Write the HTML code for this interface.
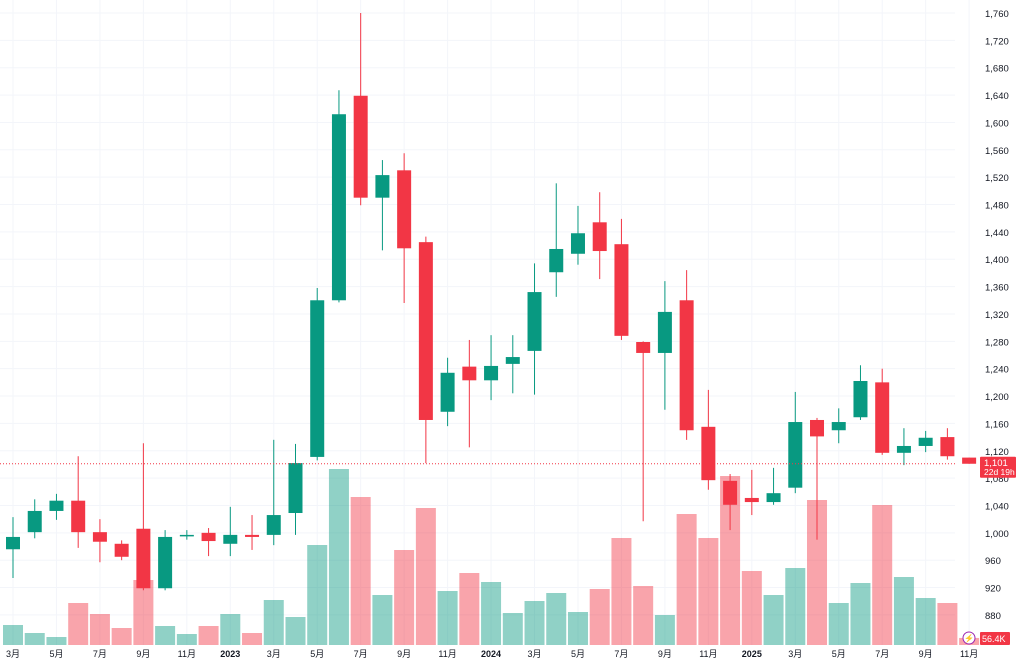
<!DOCTYPE html>
<html><head><meta charset="utf-8">
<style>
html,body{margin:0;padding:0;background:#fff;}
svg{display:block;font-family:"Liberation Sans","Noto Sans CJK SC",sans-serif;}
</style></head>
<body>
<svg id="c" width="1024" height="666"></svg>
<script>
const months=["2022-03","2022-04","2022-05","2022-06","2022-07","2022-08","2022-09","2022-10","2022-11","2022-12","2023-01","2023-02","2023-03","2023-04","2023-05","2023-06","2023-07","2023-08","2023-09","2023-10","2023-11","2023-12","2024-01","2024-02","2024-03","2024-04","2024-05","2024-06","2024-07","2024-08","2024-09","2024-10","2024-11","2024-12","2025-01","2025-02","2025-03","2025-04","2025-05","2025-06","2025-07","2025-08","2025-09","2025-10","2025-11"];
const opens=[976,1001,1032,1047,1001,984,1006,919,995,1000,984,997,997,1029,1111,1340,1639,1490,1530,1425,1177,1243,1223,1247,1266,1381,1408,1454,1422,1279,1263,1340,1155,1076,1051,1045,1066,1165,1150,1169,1220,1117,1127,1140,1110];
const highs=[1023,1049,1057,1112,1020,989,1131,1004,1004,1007,1038,1026,1136,1130,1358,1647,1760,1545,1555,1433,1256,1282,1289,1289,1394,1511,1478,1498,1459,1280,1368,1384,1209,1086,1092,1095,1206,1168,1182,1245,1240,1153,1149,1153,1110];
const lows=[934,992,1019,978,957,960,916,916,990,966,966,975,982,997,1106,1337,1479,1413,1336,1102,1156,1125,1194,1204,1202,1345,1392,1371,1282,1017,1180,1136,1063,1004,1026,1041,1058,990,1131,1165,1114,1099,1118,1107,1101];
const closes=[994,1032,1047,1001,987,965,919,994,997,988,997,994,1026,1102,1340,1612,1490,1523,1416,1165,1234,1223,1244,1257,1352,1415,1438,1412,1288,1263,1323,1150,1077,1041,1045,1058,1162,1141,1162,1222,1117,1127,1139,1112,1101];
const volumesK=[160,96,64,336,248,136,520,152,88,152,248,96,360,224,800,1408,1184,400,760,1096,432,576,504,256,352,416,264,448,856,472,240,1048,856,1352,592,400,616,1160,336,496,1120,544,376,336,56.4];
const priceTicks=[880,920,960,1000,1040,1080,1120,1160,1200,1240,1280,1320,1360,1400,1440,1480,1520,1560,1600,1640,1680,1720,1760];
const timeLabels=["3月","5月","7月","9月","11月","2023","3月","5月","7月","9月","11月","2024","3月","5月","7月","9月","11月","2025","3月","5月","7月","9月","11月"];
const lastPrice=1101;

const NS="http://www.w3.org/2000/svg";
const svg=document.getElementById('c');
function mk(t,a,p){const e=document.createElementNS(NS,t);for(const k in a)e.setAttribute(k,a[k]);(p||svg).appendChild(e);return e;}
const step=21.73, x0=13;
const xs=i=>x0+i*step;
const y=p=>13+(1760-p)*0.684;
const volBase=645, volScale=1/8;
const vy=v=>volBase-v*volScale;
const G="#089981",R="#f23645",GV="rgba(8,153,129,0.45)",RV="rgba(242,54,69,0.45)";

const grid=mk('g',{});


priceTicks.forEach(p=>{mk('line',{x1:0,x2:955,y1:y(p),y2:y(p),stroke:'#f3f5fa','stroke-width':1},grid);});
timeLabels.forEach((t,k)=>{const X=xs(k*2);mk('line',{x1:X,x2:X,y1:0,y2:645,stroke:'#f3f5fa','stroke-width':1},grid);});

const vg=mk('g',{});


volumesK.forEach((v,i)=>{
  const up=closes[i]>=opens[i];
  const r=mk('rect',{x:xs(i)-10,y:vy(v),width:20,height:v*volScale,fill:up?GV:RV},vg);
  
  
});

const cg=mk('g',{});


months.forEach((m,i)=>{
  const up=closes[i]>=opens[i];const col=up?G:R;
  const g=mk('g',{},cg);
  
  
  mk('line',{x1:xs(i),x2:xs(i),y1:y(highs[i]),y2:y(lows[i]),stroke:col,'stroke-width':1},g);
  const t=y(Math.max(opens[i],closes[i])),b=y(Math.min(opens[i],closes[i]));
  mk('rect',{x:xs(i)-7,y:t,width:14,height:Math.max(1.5,b-t),fill:col},g);
});

const ll=mk('line',{x1:0,x2:955,y1:y(lastPrice),y2:y(lastPrice),stroke:R,'stroke-width':1,'stroke-dasharray':'1 2'});



const pa=mk('g',{});


priceTicks.forEach(p=>{const t=mk('text',{x:985,y:y(p)+4,'font-size':9.5,fill:'#131722'},pa);t.textContent=p.toLocaleString('en-US');});

const ta=mk('g',{});


timeLabels.forEach((s,k)=>{const t=mk('text',{x:xs(k*2),y:657,'font-size':9,fill:'#131722','text-anchor':'middle','font-weight':/^\d{4}$/.test(s)?'bold':'normal'},ta);t.textContent=s;});

const lb=mk('g',{});


const ly=y(lastPrice);
mk('rect',{x:980,y:ly-7,width:36,height:21,fill:R,rx:1},lb);
let t1=mk('text',{x:984,y:ly+2,'font-size':9.5,fill:'#fff'},lb);t1.textContent=lastPrice.toLocaleString('en-US');
let t2=mk('text',{x:984,y:ly+11,'font-size':8.5,fill:'#fff'},lb);t2.textContent='22d 19h';

const vl=mk('g',{});


mk('rect',{x:980,y:632,width:30,height:13,fill:R,rx:1},vl);
let t3=mk('text',{x:982,y:642,'font-size':9,fill:'#fff'},vl);t3.textContent=volumesK[volumesK.length-1]+'K';
const ic=mk('g',{});


mk('circle',{cx:969,cy:638,r:6,fill:'#fff',stroke:'#9c27b0','stroke-width':1},ic);
let t4=mk('text',{x:969,y:641,'font-size':8,fill:'#9c27b0','text-anchor':'middle'},ic);t4.textContent='⚡';
</script>
</body></html>
